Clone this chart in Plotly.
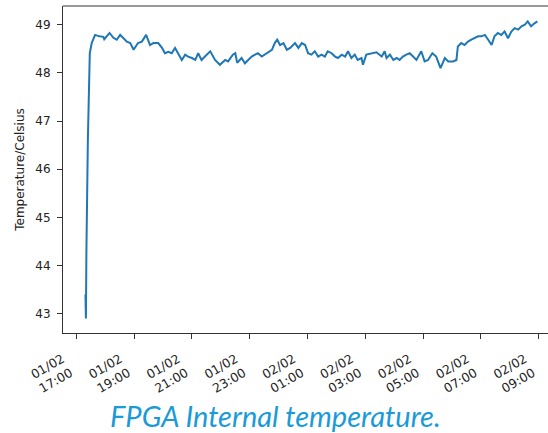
import plotly.graph_objects as go

# Sample times (1 Feb -> 2 Feb) and FPGA internal temperature readings (°C)
times = [
    "2022-02-01 17:19", "2022-02-01 17:20", "2022-02-01 17:21", "2022-02-01 17:24",
    "2022-02-01 17:28", "2022-02-01 17:32", "2022-02-01 17:39", "2022-02-01 17:48",
    "2022-02-01 17:56", "2022-02-01 17:58", "2022-02-01 18:09", "2022-02-01 18:17",
    "2022-02-01 18:24", "2022-02-01 18:31", "2022-02-01 18:37", "2022-02-01 18:45",
    "2022-02-01 18:52", "2022-02-01 18:59", "2022-02-01 19:08", "2022-02-01 19:16",
    "2022-02-01 19:25", "2022-02-01 19:33", "2022-02-01 19:40", "2022-02-01 19:50",
    "2022-02-01 19:58", "2022-02-01 20:04", "2022-02-01 20:11", "2022-02-01 20:18",
    "2022-02-01 20:25", "2022-02-01 20:31", "2022-02-01 20:39", "2022-02-01 20:46",
    "2022-02-01 20:52", "2022-02-01 21:00", "2022-02-01 21:07", "2022-02-01 21:13",
    "2022-02-01 21:20", "2022-02-01 21:27", "2022-02-01 21:38", "2022-02-01 21:48",
    "2022-02-01 21:58", "2022-02-01 22:09", "2022-02-01 22:15", "2022-02-01 22:25",
    "2022-02-01 22:30", "2022-02-01 22:34", "2022-02-01 22:43", "2022-02-01 22:50",
    "2022-02-01 22:56", "2022-02-01 23:04", "2022-02-01 23:11", "2022-02-01 23:17",
    "2022-02-01 23:25", "2022-02-01 23:35", "2022-02-01 23:46", "2022-02-01 23:52",
    "2022-02-01 23:57", "2022-02-02 00:03", "2022-02-02 00:10", "2022-02-02 00:17",
    "2022-02-02 00:24", "2022-02-02 00:34", "2022-02-02 00:41", "2022-02-02 00:48",
    "2022-02-02 00:55", "2022-02-02 01:01", "2022-02-02 01:08", "2022-02-02 01:15",
    "2022-02-02 01:22", "2022-02-02 01:29", "2022-02-02 01:36", "2022-02-02 01:42",
    "2022-02-02 01:50", "2022-02-02 01:57", "2022-02-02 02:03", "2022-02-02 02:11",
    "2022-02-02 02:18", "2022-02-02 02:24", "2022-02-02 02:31", "2022-02-02 02:38",
    "2022-02-02 02:44", "2022-02-02 02:52", "2022-02-02 02:55", "2022-02-02 03:02",
    "2022-02-02 03:13", "2022-02-02 03:23", "2022-02-02 03:34", "2022-02-02 03:40",
    "2022-02-02 03:44", "2022-02-02 03:51", "2022-02-02 03:58", "2022-02-02 04:05",
    "2022-02-02 04:11", "2022-02-02 04:18", "2022-02-02 04:25", "2022-02-02 04:32",
    "2022-02-02 04:39", "2022-02-02 04:46", "2022-02-02 04:56", "2022-02-02 05:03",
    "2022-02-02 05:10", "2022-02-02 05:19", "2022-02-02 05:27", "2022-02-02 05:36",
    "2022-02-02 05:45", "2022-02-02 05:52", "2022-02-02 06:02", "2022-02-02 06:09",
    "2022-02-02 06:12", "2022-02-02 06:19", "2022-02-02 06:26", "2022-02-02 06:33",
    "2022-02-02 06:40", "2022-02-02 06:47", "2022-02-02 06:54", "2022-02-02 07:01",
    "2022-02-02 07:08", "2022-02-02 07:15", "2022-02-02 07:22", "2022-02-02 07:28",
    "2022-02-02 07:35", "2022-02-02 07:42", "2022-02-02 07:49", "2022-02-02 07:56",
    "2022-02-02 08:03", "2022-02-02 08:10", "2022-02-02 08:17", "2022-02-02 08:24",
    "2022-02-02 08:31", "2022-02-02 08:37", "2022-02-02 08:44", "2022-02-02 08:51",
    "2022-02-02 08:57",
]

temperature = [
    43.40, 42.90, 44.30, 46.60,
    48.41, 48.62, 48.79, 48.76,
    48.75, 48.70, 48.83, 48.73,
    48.69, 48.79, 48.73, 48.65,
    48.62, 48.48, 48.62, 48.65,
    48.79, 48.58, 48.62, 48.62,
    48.52, 48.41, 48.44, 48.41,
    48.52, 48.41, 48.27, 48.38,
    48.34, 48.31, 48.27, 48.41,
    48.27, 48.34, 48.45, 48.27,
    48.17, 48.27, 48.24, 48.38,
    48.41, 48.21, 48.31, 48.20,
    48.27, 48.34, 48.38, 48.41,
    48.34, 48.41, 48.48, 48.62,
    48.69, 48.58, 48.62, 48.48,
    48.52, 48.62, 48.52, 48.62,
    48.58, 48.41, 48.38, 48.45,
    48.34, 48.38, 48.34, 48.45,
    48.41, 48.34, 48.31, 48.38,
    48.34, 48.45, 48.31, 48.38,
    48.27, 48.31, 48.17, 48.38,
    48.41, 48.43, 48.34, 48.45,
    48.31, 48.38, 48.27, 48.31,
    48.27, 48.34, 48.38, 48.41,
    48.34, 48.27, 48.45, 48.24,
    48.27, 48.41, 48.34, 48.10,
    48.31, 48.24, 48.24, 48.27,
    48.55, 48.62, 48.58, 48.65,
    48.69, 48.72, 48.76, 48.76,
    48.79, 48.69, 48.58, 48.76,
    48.83, 48.79, 48.86, 48.72,
    48.86, 48.93, 48.90, 48.97,
    49.00, 49.07, 48.97, 49.03,
    49.07,
]

y_ticks = [43, 44, 45, 46, 47, 48, 49]
x_tick_start = "2022-02-01 17:00"
x_range = ["2022-02-01 16:32:24", "2022-02-02 09:44:00"]
y_range = [42.60, 49.39]
y_title = "Temperature/Celsius"
caption = "FPGA Internal temperature."

fig = go.Figure()
fig.add_trace(go.Scatter(
    x=times, y=temperature, mode="lines",
    line=dict(color="#1f77b4", width=2),
    showlegend=False,
))

axis_font = dict(family="DejaVu Sans", size=12, color="#222222")

# The figure is slightly wider than the 548px window: the right frame edge
# falls just outside the visible area, as in the reference crop.
fig.update_layout(
    width=560, height=433,
    margin=dict(l=63, r=0, t=6, b=100, autoexpand=False),
    paper_bgcolor="white", plot_bgcolor="white",
    xaxis=dict(
        type="date", range=x_range, automargin=False,
        tick0=x_tick_start, dtick=2 * 3600 * 1000,
        tickformat="%d/%m<br>%H:%M", tickangle=-30,
        showgrid=False, zeroline=False,
        showline=True, linecolor="#333333", linewidth=1,
        ticks="outside", ticklen=5, tickcolor="#333333", tickwidth=1,
        ticklabelshift=-14, ticklabelstandoff=8,
        tickfont=dict(family="DejaVu Sans", size=12.5, color="#222222"),
    ),
    yaxis=dict(
        range=y_range, tickvals=y_ticks, automargin=False,
        showgrid=False, zeroline=False,
        showline=True, linecolor="#333333", linewidth=1,
        ticks="outside", ticklen=5, tickcolor="#333333", tickwidth=1,
        ticklabelstandoff=4,
        tickfont=axis_font,
        title=dict(text=y_title, font=axis_font, standoff=8),
    ),
    shapes=[dict(type="line", xref="paper", yref="paper", x0=0, x1=1, y0=1, y1=1,
                 line=dict(color="#333333", width=1))],
    annotations=[dict(
        text=caption, xref="paper", yref="paper", x=0.4266, y=-0.253,
        xanchor="center", yanchor="middle", showarrow=False,
        font=dict(family="Lato", size=29, color="#1a9bd7", style="italic"),
    )],
)

fig.write_html("out.html", config={"displayModeBar": False},
               post_script="document.body.style.margin='0';document.body.style.overflow='hidden';")
